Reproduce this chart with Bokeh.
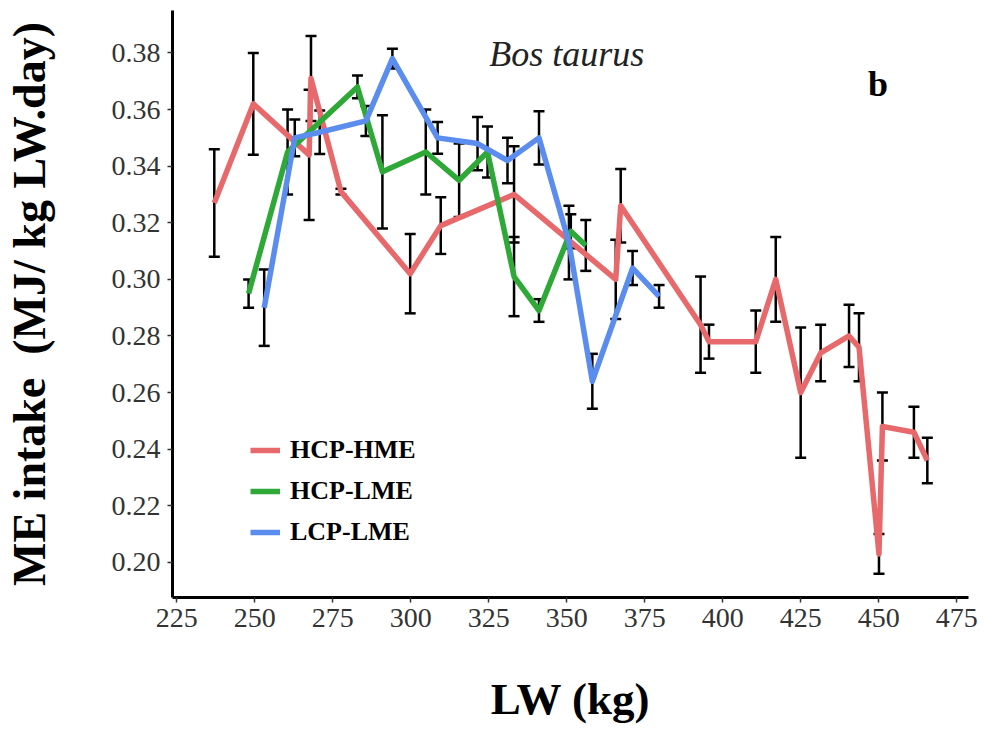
import numpy as np
from bokeh.plotting import figure
from bokeh.models import Range1d, FixedTicker, NumeralTickFormatter, Legend, LegendItem, Label
from bokeh.embed import file_html
from bokeh.resources import INLINE

# ---- data ----
x_ticks = [225, 250, 275, 300, 325, 350, 375, 400, 425, 450, 475]
y_ticks = [0.20, 0.22, 0.24, 0.26, 0.28, 0.30, 0.32, 0.34, 0.36, 0.38]

series_names = ["HCP-HME", "HCP-LME", "LCP-LME"]

hcp_hme_lw = [237.0, 249.5, 267.4, 268.0, 277.6, 299.8, 309.6, 333.1, 365.7, 367.3,
              392.9, 395.6, 410.6, 417.0, 425.0, 431.4, 440.5, 443.7, 450.1, 451.2,
              461.3, 465.6]
hcp_hme_me = [0.327, 0.362, 0.344, 0.371, 0.331, 0.302, 0.319, 0.330, 0.300, 0.326,
              0.284, 0.278, 0.278, 0.300, 0.260, 0.274, 0.280, 0.276, 0.203, 0.248,
              0.246, 0.236]
hcp_hme_se = [0.019, 0.018, 0.023, 0.015, 0.001, 0.014, 0.010, 0.017, 0.014, 0.013,
              0.017, 0.006, 0.011, 0.015, 0.023, 0.010, 0.011, 0.012, 0.007, 0.012,
              0.009, 0.008]

hcp_lme_lw = [248.0, 260.5, 282.9, 290.9, 304.8, 315.5, 324.6, 333.1, 341.1, 351.3, 356.1]
hcp_lme_me = [0.295, 0.345, 0.368, 0.338, 0.345, 0.335, 0.345, 0.301, 0.289, 0.317, 0.312]
hcp_lme_se = [0.005, 0.015, 0.004, 0.020, 0.015, 0.013, 0.009, 0.014, 0.004, 0.006, 0.009]

lcp_lme_lw = [253.0, 262.8, 270.8, 285.6, 294.1, 308.6, 321.4, 331.0, 341.1, 350.7,
              358.2, 371.1, 379.6]
lcp_lme_me = [0.290, 0.350, 0.352, 0.356, 0.378, 0.350, 0.348, 0.342, 0.350, 0.313,
              0.264, 0.304, 0.294]
lcp_lme_se = [0.0135, 0.0065, 0.0077, 0.0053, 0.0035, 0.0056, 0.0094, 0.008, 0.0094,
              0.013, 0.0097, 0.006, 0.004]

colors = ["#E8696B", "#2EA836", "#5B8DEF"]

SERIF = "Liberation Serif"

p = figure(width=985, height=742, output_backend="svg", toolbar_location=None,
           x_range=Range1d(223.6, 478.8), y_range=Range1d(0.1876, 0.395),
           min_border_left=172, min_border_right=17, min_border_top=10,
           min_border_bottom=145, background_fill_color="white",
           border_fill_color="white")
p.outline_line_color = None
p.xgrid.visible = False
p.ygrid.visible = False

for ax in (p.xaxis[0], p.yaxis[0]):
    ax.axis_line_color = "black"
    ax.axis_line_width = 3
    ax.major_tick_out = 5
    ax.major_tick_in = 0
    ax.major_tick_line_color = "#333333"
    ax.major_tick_line_width = 1.5
    ax.minor_tick_line_color = None
    ax.major_label_text_font = SERIF
    ax.major_label_text_font_size = "28px"
    ax.major_label_text_color = "#333333"
    ax.axis_label_text_font = SERIF
    ax.axis_label_text_font_style = "bold"
    ax.axis_label_text_color = "black"

p.xaxis.ticker = FixedTicker(ticks=x_ticks)
p.yaxis.ticker = FixedTicker(ticks=y_ticks)
p.yaxis.formatter = NumeralTickFormatter(format="0.00")
p.xaxis.major_label_standoff = 6
p.yaxis.major_label_standoff = 7
p.xaxis.axis_label = "LW (kg)"
p.yaxis.axis_label = "ME intake\u00a0\u00a0(MJ/ kg LW.day)"
p.xaxis.axis_label_text_font_size = "45px"
p.yaxis.axis_label_text_font_size = "46px"
p.xaxis.axis_label_standoff = 44
p.yaxis.axis_label_standoff = 54

data = [(hcp_hme_lw, hcp_hme_me, hcp_hme_se),
        (hcp_lme_lw, hcp_lme_me, hcp_lme_se),
        (lcp_lme_lw, lcp_lme_me, lcp_lme_se)]

# error bars first
for xs, ys, se in data:
    xs = np.array(xs); ys = np.array(ys); se = np.array(se)
    lo = ys - se; hi = ys + se
    p.segment(x0=xs, y0=lo, x1=xs, y1=hi, line_color="black", line_width=2.5)
    p.scatter(x=xs, y=lo, marker="dash", size=11, line_color="black", line_width=2.5)
    p.scatter(x=xs, y=hi, marker="dash", size=11, line_color="black", line_width=2.5)

renderers = []
for (xs, ys, se), c in zip(data, colors):
    r = p.line(x=xs, y=ys, line_color=c, line_width=5.5, line_join="round")
    renderers.append(r)

legend = Legend(items=[LegendItem(label=n, renderers=[r]) for n, r in zip(series_names, renderers)],
                location=(78, 50), orientation="vertical",
                label_text_font=SERIF, label_text_font_style="bold",
                label_text_font_size="26px", label_text_color="black",
                glyph_width=30, glyph_height=20, label_standoff=10,
                spacing=11, padding=0, margin=0,
                border_line_color=None, background_fill_alpha=0)
p.add_layout(legend)

p.add_layout(Label(x=350, y=0.3797, text="Bos taurus", text_font=SERIF,
                   text_font_style="italic", text_font_size="36px",
                   text_align="center", text_baseline="alphabetic", text_color="#222222"))
p.add_layout(Label(x=449.8, y=0.3691, text="b", text_font=SERIF,
                   text_font_style="bold", text_font_size="36px",
                   text_align="center", text_baseline="alphabetic", text_color="black"))

open("out.html", "w").write(file_html(p, INLINE))
